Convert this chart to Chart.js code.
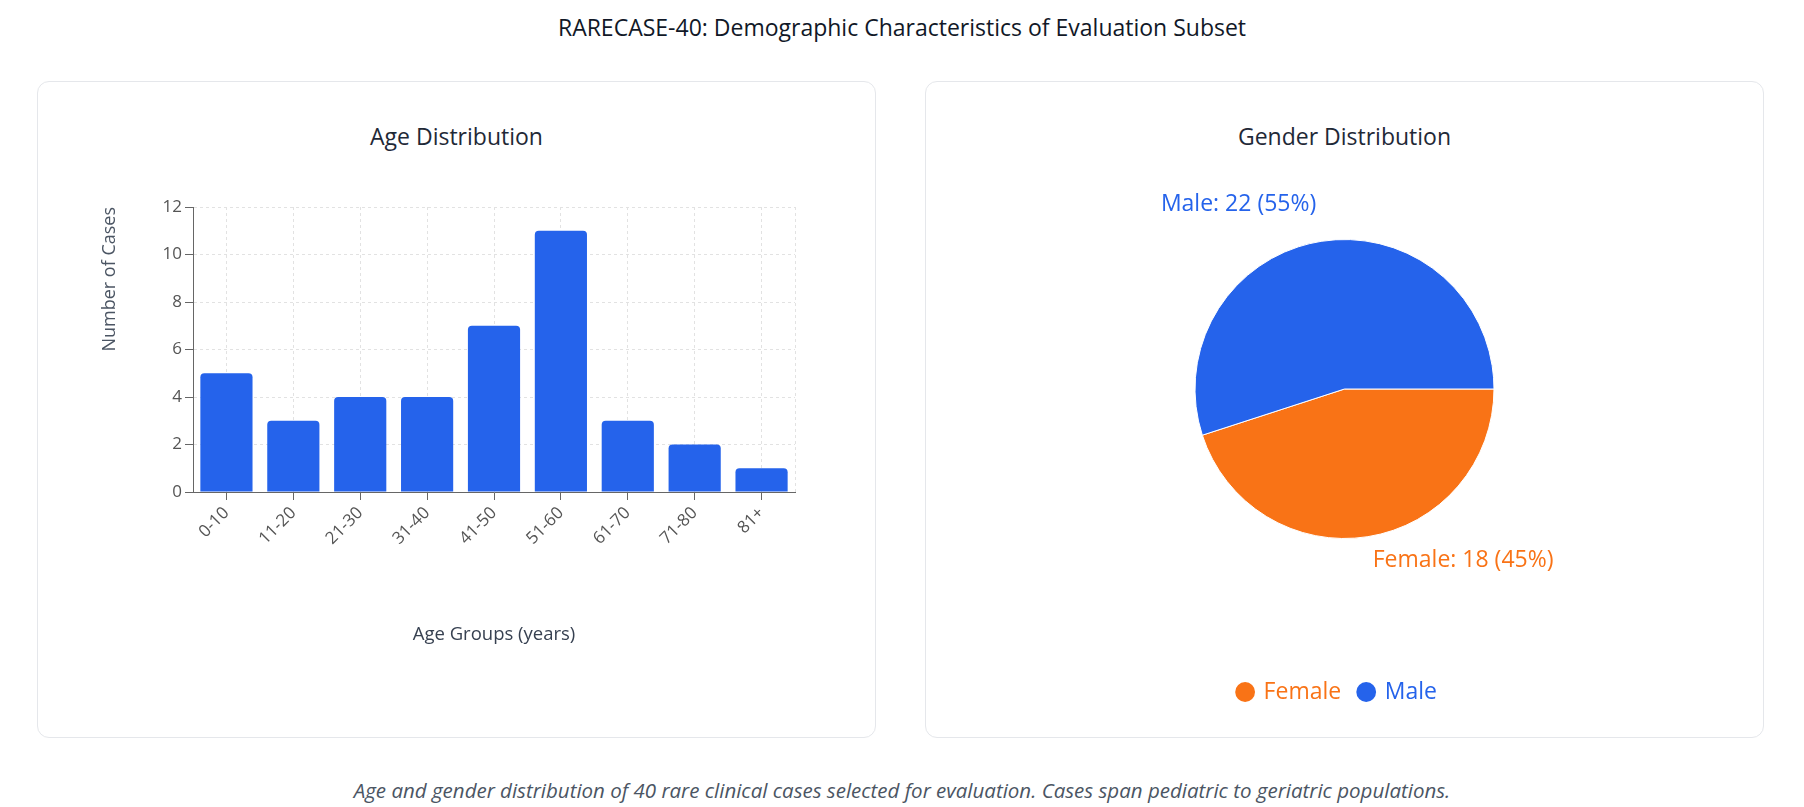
<!DOCTYPE html>
<html>
<head>
<meta charset="utf-8">
<script src="https://cdn.jsdelivr.net/npm/chart.js@4.4.1/dist/chart.umd.min.js"></script>
<style>
body { margin: 0; width: 1804px; height: 807px; background: #fff; font-family: "Open Sans", sans-serif; position: relative; overflow: hidden; }
#title { position: absolute; left: 0; width: 1804px; top: 12px; margin: 0; text-align: center; font-size: 23px; line-height: 30px; font-weight: 400; color: #111827; }
.card { position: absolute; top: 81px; width: 837px; height: 655px; border: 1px solid #e5e7eb; border-radius: 12px; }
#leftCard { left: 37px; }
#rightCard { left: 925px; }
.card h3 { position: absolute; top: 39px; left: 0; right: 0; margin: 0; text-align: center; font-size: 23px; line-height: 30px; font-weight: 400; color: #1f2937; }
.box { position: absolute; left: 0; top: 0; width: 837px; height: 655px; }
#caption { position: absolute; top: 777px; left: 0; width: 1804px; margin: 0; text-align: center; font-style: italic; font-size: 20.5px; line-height: 26px; color: #4b5563; }
</style>
</head>
<body>
<h1 id="title">RARECASE-40: Demographic Characteristics of Evaluation Subset</h1>
<div class="card" id="leftCard">
  <h3>Age Distribution</h3>
  <div class="box"><canvas id="ageChart"></canvas></div>
</div>
<div class="card" id="rightCard">
  <h3>Gender Distribution</h3>
  <div class="box"><canvas id="genderChart"></canvas></div>
</div>
<p id="caption">Age and gender distribution of 40 rare clinical cases selected for evaluation. Cases span pediatric to geriatric populations.</p>

<script>
// Data
const ageGroups = ['0-10', '11-20', '21-30', '31-40', '41-50', '51-60', '61-70', '71-80', '81+'];
const ageCounts = [5, 3, 4, 4, 7, 11, 3, 2, 1];

const genderLabels = ['Female', 'Male'];
const genderCounts = [18, 22];
const genderColors = ['#f97316', '#2563eb'];

const barColor = '#2563eb';
const gridColor = '#e2e2e2';
const axisColor = '#666';
const fontFamily = '"Open Sans", sans-serif';

Chart.defaults.font.family = fontFamily;
Chart.defaults.animation = false;

// dashed line on the right edge of the plot
const rightEdge = {
    id: 'rightEdge',
    beforeDatasetsDraw(chart) {
        const { ctx, chartArea } = chart;
        ctx.save();
        ctx.strokeStyle = gridColor;
        ctx.lineWidth = 1;
        ctx.setLineDash([3, 3]);
        ctx.beginPath();
        ctx.moveTo(chartArea.right + 0.5, chartArea.top);
        ctx.lineTo(chartArea.right + 0.5, chartArea.bottom);
        ctx.stroke();
        ctx.restore();
    }
};

// labels outside the pie slices
const pieLabels = {
    id: 'pieLabels',
    afterLayout(chart) {
        // nudge legend a bit left, like the original
        chart.legend.left -= 7;
        chart.legend.right -= 7;
    },
    afterDraw(chart) {
        const ctx = chart.ctx;
        const meta = chart.getDatasetMeta(0);
        const values = chart.data.datasets[0].data;
        const total = values.reduce((a, b) => a + b, 0);
        ctx.save();
        ctx.font = '23px ' + fontFamily;
        ctx.textBaseline = 'alphabetic';
        meta.data.forEach((arc, i) => {
            const p = arc.getProps(['x', 'y', 'startAngle', 'endAngle', 'outerRadius'], true);
            const mid = (p.startAngle + p.endAngle) / 2;
            const r = p.outerRadius + 31;
            const lx = p.x + Math.cos(mid) * r;
            const ly = p.y + Math.sin(mid) * r;
            ctx.textAlign = lx > p.x ? 'left' : 'right';
            ctx.fillStyle = genderColors[i];
            const pct = Math.round(values[i] / total * 100);
            ctx.fillText(chart.data.labels[i] + ': ' + values[i] + ' (' + pct + '%)', lx, ly);
        });
        ctx.restore();
    }
};

new Chart(document.getElementById('ageChart'), {
    type: 'bar',
    data: {
        labels: ageGroups,
        datasets: [{
            data: ageCounts,
            backgroundColor: barColor,
            borderRadius: { topLeft: 4, topRight: 4, bottomLeft: 0, bottomRight: 0 },
            borderSkipped: false,
            categoryPercentage: 1,
            barPercentage: 0.78,
        }],
    },
    options: {
        responsive: true,
        maintainAspectRatio: false,
        layout: { padding: { left: 0, right: 80, top: 125, bottom: 75 } },
        plugins: { legend: { display: false }, tooltip: { enabled: false } },
        scales: {
            x: {
                afterFit: (s) => { s.height = 170; },
                grid: { color: gridColor, offset: false, tickColor: axisColor, tickLength: 8 },
                border: { color: axisColor, dash: [3, 3] },
                ticks: { color: '#555', font: { size: 17 }, minRotation: 45, maxRotation: 45, padding: 3 },
                title: { display: true, text: 'Age Groups (years)', color: '#374151', font: { size: 18.5 }, padding: { top: 0, bottom: 16 } },
            },
            y: {
                min: 0,
                max: 12,
                afterFit: (s) => { s.width = 155; },
                grid: { color: gridColor, tickColor: axisColor, tickLength: 8 },
                border: { color: axisColor, dash: [3, 3] },
                ticks: { stepSize: 2, color: '#555', font: { size: 17 }, padding: 3 },
                title: { display: true, text: 'Number of Cases', align: 'end', color: '#4b5563', font: { size: 18 }, padding: { top: 61, bottom: 0 } },
            },
        },
    },
    plugins: [rightEdge],
});

new Chart(document.getElementById('genderChart'), {
    type: 'pie',
    data: {
        labels: genderLabels,
        datasets: [{
            data: genderCounts,
            backgroundColor: genderColors,
            borderColor: '#fff',
            borderWidth: 1,
        }],
    },
    options: {
        responsive: true,
        maintainAspectRatio: false,
        rotation: 90,
        layout: { padding: { left: 268.5, right: 268.5, top: 33.5, bottom: 23.5 } },
        plugins: {
            tooltip: { enabled: false },
            legend: {
                position: 'bottom',
                labels: {
                    usePointStyle: true,
                    pointStyle: 'circle',
                    boxWidth: 14,
                    boxHeight: 14,
                    padding: 18,
                    font: { size: 23 },
                    generateLabels(chart) {
                        const items = Chart.overrides.pie.plugins.legend.labels.generateLabels(chart);
                        items.forEach(it => { it.fontColor = it.fillStyle; it.lineWidth = 0; });
                        return items;
                    },
                },
            },
        },
    },
    plugins: [pieLabels],
});
</script>
</body>
</html>
